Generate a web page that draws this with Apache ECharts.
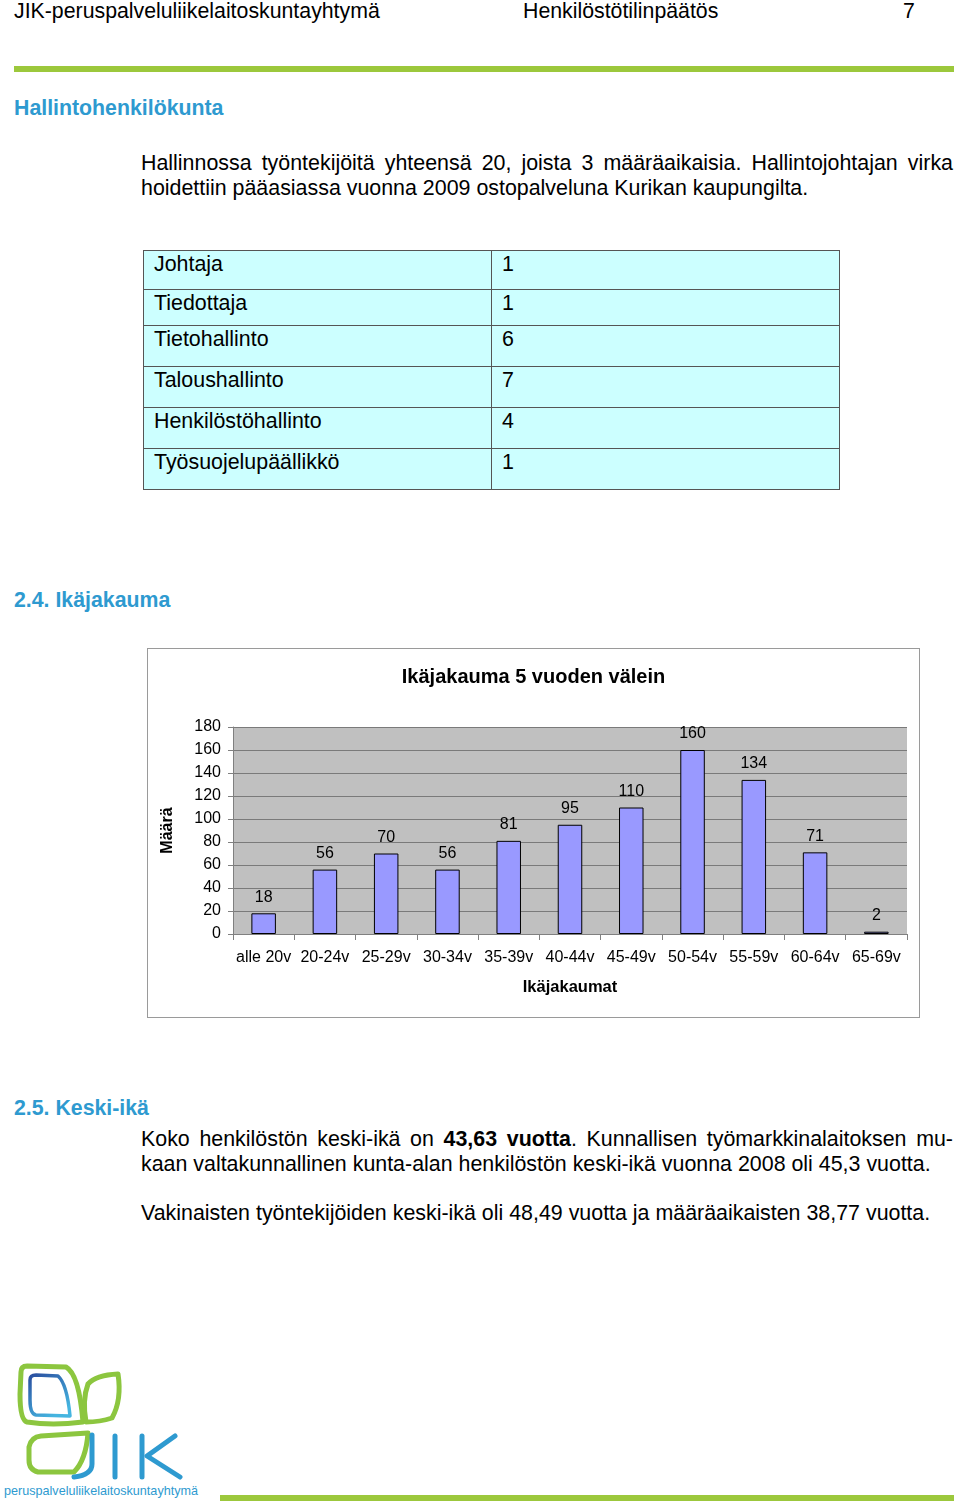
<!DOCTYPE html>
<html>
<head>
<meta charset="utf-8">
<script src="https://cdn.jsdelivr.net/npm/echarts@6/dist/echarts.min.js"></script>
<style>
  html, body { margin:0; padding:0; background:#fff; }
  body { width:960px; height:1503px; position:relative; overflow:hidden; font-family:"Liberation Sans", Arial, sans-serif; color:#000; }
  .abs { position:absolute; white-space:nowrap; }
  .hdr { font-size:21.3px; top:-1px; }
  .blue { color:#2E9AD0; font-weight:bold; font-size:21.3px; }
  .p { font-size:21.4px; line-height:25px; }
  .j { text-align:justify; text-align-last:justify; white-space:normal; width:812px; }
  table { position:absolute; left:143px; top:250px; border-collapse:collapse; font-size:21.4px; }
  td { background:#CCFFFF; border:1px solid #555; padding:1px 0 0 10px; vertical-align:top; }
</style>
</head>
<body>
<div class="abs hdr" style="left:14px;">JIK-peruspalveluliikelaitoskuntayhtymä</div>
<div class="abs hdr" style="left:523px;">Henkilöstötilinpäätös</div>
<div class="abs hdr" style="left:903px;">7</div>
<div class="abs" style="left:14px; top:66px; width:940px; height:6px; background:#9CC83C;"></div>
<div class="abs blue" style="left:14px; top:96px;">Hallintohenkilökunta</div>
<div class="abs p j" style="left:141px; top:151px;">Hallinnossa työntekijöitä yhteensä 20, joista 3 määräaikaisia. Hallintojohtajan virka</div>
<div class="abs p" style="left:141px; top:176px;">hoidettiin pääasiassa vuonna 2009 ostopalveluna Kurikan kaupungilta.</div>
<table id="tbl"></table>
<div class="abs blue" style="left:14px; top:588px;">2.4. Ikäjakauma</div>
<div id="chart" class="abs" style="left:147px; top:648px; width:771px; height:368px; border:1px solid #9a9a9a;"></div>
<div class="abs blue" style="left:14px; top:1096px;">2.5. Keski-ikä</div>
<div class="abs p j" style="left:141px; top:1127px;">Koko henkilöstön keski-ikä on <b>43,63 vuotta</b>. Kunnallisen työmarkkinalaitoksen mu-</div>
<div class="abs p" style="left:141px; top:1152px;">kaan valtakunnallinen kunta-alan henkilöstön keski-ikä vuonna 2008 oli 45,3 vuotta.</div>
<div class="abs p" style="left:141px; top:1201px;">Vakinaisten työntekijöiden keski-ikä oli 48,49 vuotta ja määräaikaisten 38,77 vuotta.</div>
<svg class="abs" style="left:0; top:1360px;" width="210" height="143">
  <defs>
    <linearGradient id="bg" x1="0" y1="0" x2="0.6" y2="1">
      <stop offset="0" stop-color="#2B4FA0"/>
      <stop offset="1" stop-color="#45B5E0"/>
    </linearGradient>
  </defs>
  <path d="M21 12 Q21 6 27 6 L66 7 Q79 14 83 62 Q52 66 27 62 Q20 60 20 34 Z" fill="none" stroke="#8CC63F" stroke-width="5" stroke-linejoin="round"/>
  <path d="M30 20 Q30 15 36 15 L58 16 Q67 24 70 56 L36 55 Q30 54 30 40 Z" fill="none" stroke="url(#bg)" stroke-width="3.5" stroke-linejoin="round"/>
  <path d="M118 14 Q122 40 112 58 Q100 62 86 62 Q82 40 88 24 Q96 15 118 14 Z" fill="none" stroke="#8CC63F" stroke-width="5" stroke-linejoin="round"/>
  <path d="M88 73 Q86 100 74 112 L38 112 Q29 110 29 100 L29 87 Q31 77 41 76 Z" fill="none" stroke="#8CC63F" stroke-width="5" stroke-linejoin="round"/>
  <path d="M92 75 L92 104 Q92 115 74 117" fill="none" stroke="#2E9AD0" stroke-width="5" stroke-linecap="round"/>
  <path d="M115 76 L115 117" fill="none" stroke="#2E9AD0" stroke-width="5" stroke-linecap="round"/>
  <path d="M142 76 L142 117" fill="none" stroke="#2E9AD0" stroke-width="5" stroke-linecap="round"/>
  <path d="M175 76 L147 96 L180 117" fill="none" stroke="#2E9AD0" stroke-width="5" stroke-linecap="round" stroke-linejoin="round"/>
  <text x="4" y="135" font-size="13" fill="#2E9AD0" font-family="Liberation Sans, Arial" textLength="194" lengthAdjust="spacingAndGlyphs">peruspalveluliikelaitoskuntayhtymä</text>
</svg>
<div class="abs" style="left:220px; top:1495px; width:734px; height:6px; background:#9CC83C;"></div>
<script>
const tableNames = ["Johtaja", "Tiedottaja", "Tietohallinto", "Taloushallinto", "Henkilöstöhallinto", "Työsuojelupäällikkö"];
const tableCounts = [1, 1, 6, 7, 4, 1];
const rowHeights = [39, 36, 41, 41, 41, 41];

const categories = ["alle 20v", "20-24v", "25-29v", "30-34v", "35-39v", "40-44v", "45-49v", "50-54v", "55-59v", "60-64v", "65-69v"];
const values = [18, 56, 70, 56, 81, 95, 110, 160, 134, 71, 2];
const chartTitle = "Ikäjakauma 5 vuoden välein";
const xName = "Ikäjakaumat";
const yName = "Määrä";

const tbl = document.getElementById('tbl');
tableNames.forEach((n, i) => {
  const tr = document.createElement('tr');
  tr.style.height = rowHeights[i] + 'px';
  const a = document.createElement('td'); a.textContent = n; a.style.width = '337px';
  const b = document.createElement('td'); b.textContent = tableCounts[i]; b.style.width = '337px';
  tr.appendChild(a); tr.appendChild(b); tbl.appendChild(tr);
});

const chart = echarts.init(document.getElementById('chart'));
const font = "Liberation Sans, Arial, sans-serif";
chart.setOption({
  animation: false,
  backgroundColor: '#fff',
  title: {
    text: chartTitle, left: 'center', top: 13,
    textStyle: { fontFamily: font, fontSize: 20, fontWeight: 'bold', color: '#000' }
  },
  grid: { left: 85, right: 12, top: 78, bottom: 83, show: true, backgroundColor: '#C0C0C0', borderWidth: 0 },
  xAxis: {
    type: 'category', data: categories,
    name: xName, nameLocation: 'middle', nameGap: 45,
    nameTextStyle: { fontFamily: font, fontSize: 16.5, fontWeight: 'bold', color: '#000' },
    axisLine: { lineStyle: { color: '#808080', width: 1 } },
    axisTick: { show: true, alignWithLabel: false, length: 6, lineStyle: { color: '#808080' } },
    axisLabel: { fontFamily: font, fontSize: 16, color: '#000', margin: 16, interval: 0 }
  },
  yAxis: {
    type: 'value', min: 0, max: 180, interval: 20,
    name: yName, nameLocation: 'middle', nameGap: 57, nameRotate: 90,
    nameTextStyle: { fontFamily: font, fontSize: 16, fontWeight: 'bold', color: '#000' },
    axisLine: { show: true, lineStyle: { color: '#808080' } },
    axisTick: { show: true, length: 5, lineStyle: { color: '#808080' } },
    axisLabel: { fontFamily: font, fontSize: 16, color: '#000', margin: 12 },
    splitLine: { show: true, lineStyle: { color: '#7a7a7a', width: 1 } }
  },
  series: [{
    type: 'bar', data: values, barWidth: '40%',
    itemStyle: { color: '#9999FF', borderColor: '#000', borderWidth: 1 },
    label: { show: true, position: 'top', distance: 8, fontFamily: font, fontSize: 16, color: '#000' }
  }]
});
</script>
</body>
</html>
